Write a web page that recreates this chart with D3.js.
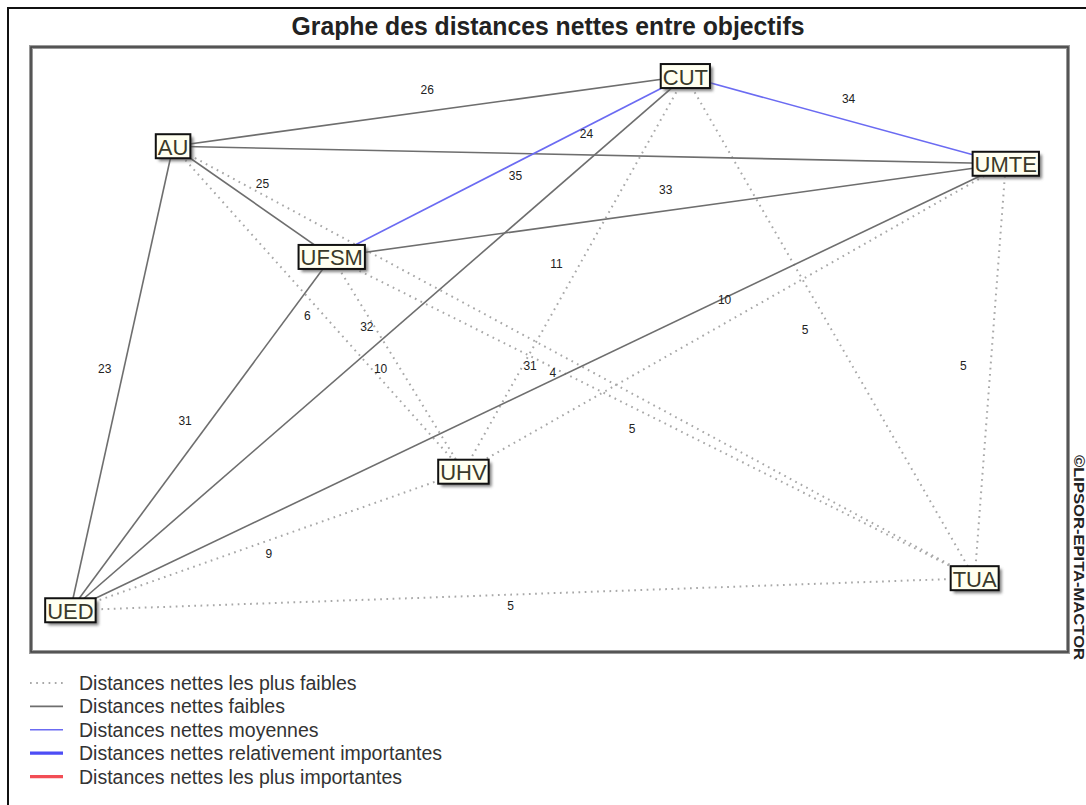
<!DOCTYPE html>
<html>
<head>
<meta charset="utf-8">
<script src="https://cdn.jsdelivr.net/npm/d3@7"></script>
<style>
  body { margin: 0; background: #fff; }
  svg { display: block; }
</style>
</head>
<body>
<div id="chart"></div>
<script>
// objectives and their position on the MACTOR map (0-100 units)
const objectives = ['CUT', 'AU', 'UMTE', 'UFSM', 'UHV', 'TUA', 'UED'];
const posX = [63.1, 13.7, 94.0, 29.0, 41.7, 91.0, 3.8];
const posY = [4.8, 16.4, 19.3, 34.7, 70.2, 87.8, 93.1];

// net distances between objectives
const edgeSource = ['AU', 'AU', 'CUT', 'UFSM', 'UFSM', 'AU', 'CUT', 'AU', 'UFSM', 'UMTE',
  'UED', 'UED', 'UMTE', 'CUT', 'CUT', 'UMTE', 'UFSM', 'AU', 'AU', 'UFSM'];
const edgeTarget = ['CUT', 'UMTE', 'UMTE', 'UMTE', 'CUT', 'UFSM', 'UED', 'UED', 'UED', 'UED',
  'UHV', 'TUA', 'TUA', 'TUA', 'UHV', 'UHV', 'UHV', 'UHV', 'TUA', 'TUA'];
const edgeValue = [26, 24, 34, 33, 35, 25, 32, 23, 31, 31, 9, 5, 5, 5, 11, 10, 10, 6, 4, 5];
// 0 = plus faibles, 1 = faibles, 2 = moyennes
const edgeLevel = [1, 1, 2, 1, 2, 1, 1, 1, 1, 1, 0, 0, 0, 0, 0, 0, 0, 0, 0, 0];
// label nudge from the middle of each edge (px)
const labelDx = [-2, -3, 3, -3, 7, 10, -11, -17, -16, -8, 2, -12, -27, -25, -18, -10, -17, -11, -21, -21];
const labelDy = [-21, -21, -21, -20, 10, -18, -16, -9, -13, -21, 13, 12, -5, 3, -10, -18, 5, 7, 11, 11];

const legendLabels = [
  'Distances nettes les plus faibles',
  'Distances nettes faibles',
  'Distances nettes moyennes',
  'Distances nettes relativement importantes',
  'Distances nettes les plus importantes'
];

const W = 1086, H = 805;
const frame = { left: 31, top: 47, right: 1068, bottom: 652 };

const levelStyle = [
  { color: '#a8a8a8', width: 2, dash: '1.7 4.5' },
  { color: '#6e6e6e', width: 1.6, dash: null },
  { color: '#6b6bf2', width: 1.6, dash: null },
  { color: '#4d4df5', width: 3.2, dash: null },
  { color: '#f24d55', width: 3.2, dash: null }
];

const svg = d3.select('#chart').append('svg')
  .attr('width', W).attr('height', H);

const defs = svg.append('defs');
const blur = defs.append('filter').attr('id', 'shadow')
  .attr('x', '-20%').attr('y', '-20%').attr('width', '150%').attr('height', '160%');
blur.append('feGaussianBlur').attr('stdDeviation', 1.4);

// outer frame
svg.append('rect')
  .attr('x', 8).attr('y', 8).attr('width', W).attr('height', H)
  .attr('fill', 'none').attr('stroke', '#111').attr('stroke-width', 2);

svg.append('text')
  .attr('x', 548).attr('y', 35)
  .attr('text-anchor', 'middle')
  .attr('textLength', 513)
  .attr('lengthAdjust', 'spacingAndGlyphs')
  .style('font-family', '"Liberation Sans Narrow", "Arial Narrow", "Liberation Sans", Arial, sans-serif')
  .style('font-weight', 'bold')
  .style('font-size', '25px')
  .attr('fill', '#222')
  .text('Graphe des distances nettes entre objectifs');

// plot frame
svg.append('rect')
  .attr('x', frame.left).attr('y', frame.top)
  .attr('width', frame.right - frame.left).attr('height', frame.bottom - frame.top)
  .attr('fill', 'none').attr('stroke', '#9a9a9a').attr('stroke-width', 4);
svg.append('rect')
  .attr('x', frame.left).attr('y', frame.top)
  .attr('width', frame.right - frame.left).attr('height', frame.bottom - frame.top)
  .attr('fill', 'none').attr('stroke', '#444').attr('stroke-width', 1.6);

svg.append('text')
  .attr('transform', `translate(1074,455) rotate(90)`)
  .attr('textLength', 205)
  .attr('lengthAdjust', 'spacingAndGlyphs')
  .style('font-family', '"Liberation Sans", Arial, sans-serif')
  .style('font-weight', 'bold')
  .style('font-size', '14.5px')
  .attr('fill', '#222')
  .text('©LIPSOR-EPITA-MACTOR');

const x = d3.scaleLinear().domain([0, 100]).range([frame.left, frame.right]);
const y = d3.scaleLinear().domain([0, 100]).range([frame.top, frame.bottom]);

const nodes = objectives.map((name, i) => ({ name, px: x(posX[i]), py: y(posY[i]) }));
const byName = new Map(nodes.map((d) => [d.name, d]));

const edges = edgeValue.map((v, i) => ({
  source: byName.get(edgeSource[i]),
  target: byName.get(edgeTarget[i]),
  value: v,
  level: edgeLevel[i],
  dx: labelDx[i],
  dy: labelDy[i]
}));

// weakest first so stronger links sit on top
const sorted = edges.slice().sort((a, b) => a.level - b.level);

svg.append('g')
  .selectAll('line')
  .data(sorted)
  .join('line')
  .attr('x1', (d) => d.source.px)
  .attr('y1', (d) => d.source.py)
  .attr('x2', (d) => d.target.px)
  .attr('y2', (d) => d.target.py)
  .attr('stroke', (d) => levelStyle[d.level].color)
  .attr('stroke-width', (d) => levelStyle[d.level].width)
  .attr('stroke-dasharray', (d) => levelStyle[d.level].dash);

svg.append('g')
  .selectAll('text')
  .data(edges)
  .join('text')
  .attr('x', (d) => (d.source.px + d.target.px) / 2 + d.dx)
  .attr('y', (d) => (d.source.py + d.target.py) / 2 + d.dy)
  .attr('text-anchor', 'middle')
  .attr('dominant-baseline', 'central')
  .style('font-family', '"Liberation Sans", Arial, sans-serif')
  .style('font-size', '12px')
  .attr('fill', '#222')
  .text((d) => d.value);

const node = svg.append('g')
  .selectAll('g')
  .data(nodes)
  .join('g')
  .attr('transform', (d) => `translate(${d.px},${d.py})`);

const label = node.append('text')
  .attr('text-anchor', 'middle')
  .attr('dominant-baseline', 'central')
  .attr('y', 1)
  .style('font-family', '"Liberation Sans", Arial, sans-serif')
  .style('font-size', '22px')
  .attr('fill', '#3a3a2a')
  .text((d) => d.name);

label.each(function (d) { d.w = this.getComputedTextLength() + 4; });

node.insert('rect', 'text')
  .attr('x', (d) => -d.w / 2 + 3)
  .attr('y', -12 + 3)
  .attr('width', (d) => d.w)
  .attr('height', 24)
  .attr('fill', '#555')
  .attr('opacity', 0.75)
  .attr('filter', 'url(#shadow)');

node.insert('rect', 'text')
  .attr('x', (d) => -d.w / 2)
  .attr('y', -12)
  .attr('width', (d) => d.w)
  .attr('height', 24)
  .attr('fill', '#fffff0')
  .attr('stroke', '#111')
  .attr('stroke-width', 2);

// legend
const legend = svg.append('g')
  .selectAll('g')
  .data(legendLabels)
  .join('g')
  .attr('transform', (d, i) => `translate(30,${683 + i * 23.4})`);

legend.append('line')
  .attr('x1', 0).attr('x2', 33)
  .attr('stroke', (d, i) => levelStyle[i].color)
  .attr('stroke-width', (d, i) => levelStyle[i].width)
  .attr('stroke-dasharray', (d, i) => levelStyle[i].dash);

legend.append('text')
  .attr('x', 49)
  .attr('dominant-baseline', 'central')
  .style('font-family', '"Liberation Sans", Arial, sans-serif')
  .style('font-size', '19.5px')
  .attr('fill', '#333')
  .text((d) => d);
</script>
</body>
</html>
